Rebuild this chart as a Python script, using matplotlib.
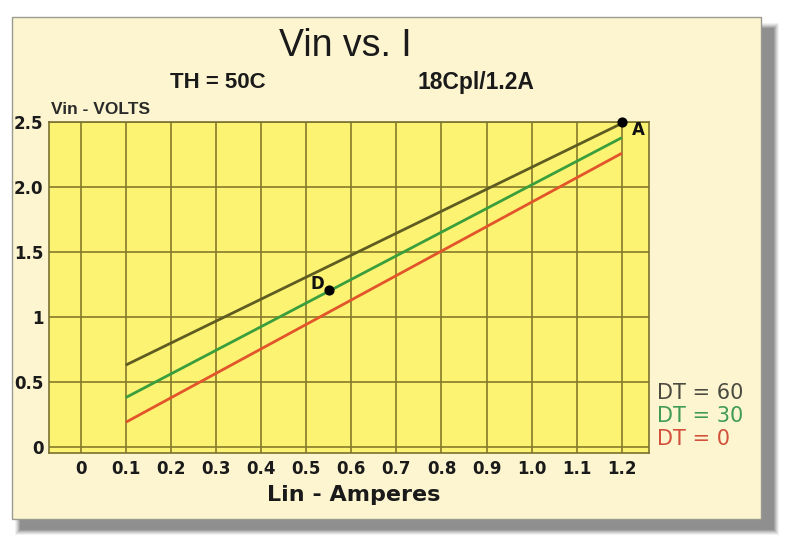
import matplotlib.pyplot as plt
from matplotlib.patches import Rectangle

# -----------------------------------------------------------------------------
# Data
# -----------------------------------------------------------------------------

current_amps = [0.1, 1.2]
vin_dt60 = [0.63, 2.49]
vin_dt30 = [0.38, 2.38]
vin_dt0 = [0.19, 2.26]

series_labels = ["DT = 60", "DT = 30", "DT = 0"]
series_colors = ["#5f5c22", "#3a9e3c", "#e2552a"]
legend_colors = ["#4a4a40", "#3f9a55", "#d2503c"]

point_names = ["D", "A"]
point_x = [0.55, 1.2]
point_y = [1.21, 2.50]

x_ticks = [0.0, 0.1, 0.2, 0.3, 0.4, 0.5, 0.6, 0.7, 0.8, 0.9, 1.0, 1.1, 1.2]
x_tick_labels = ["0", "0.1", "0.2", "0.3", "0.4", "0.5", "0.6",
                 "0.7", "0.8", "0.9", "1.0", "1.1", "1.2"]
y_ticks = [0.0, 0.5, 1.0, 1.5, 2.0, 2.5]
y_tick_labels = ["0", "0.5", "1", "1.5", "2.0", "2.5"]

# -----------------------------------------------------------------------------
# Figure, panel and shadow
# -----------------------------------------------------------------------------

W, H = 800, 548
figure = plt.figure(figsize=(8.0, 5.48), dpi=100)
figure.patch.set_facecolor("white")


def px_rect(x0, y0, x1, y1, **kw):
    # rectangle given in pixel coords measured from top-left
    return Rectangle((x0 / W, 1 - y1 / H), (x1 - x0) / W, (y1 - y0) / H,
                     transform=figure.transFigure, **kw)


# soft shadow
for i, a in enumerate([0.08, 0.10, 0.13, 0.17, 0.22, 0.25]):
    d = 5 - i
    figure.patches.append(px_rect(20 - d, 28 - d, 774 + d, 530 + d,
                                  facecolor="#555555", edgecolor="none",
                                  alpha=a, zorder=0))
figure.patches.append(px_rect(12, 17, 761, 519, facecolor="#fcf5d0",
                              edgecolor="#9a9a90", linewidth=1.0, zorder=1))

# -----------------------------------------------------------------------------
# Plot area
# -----------------------------------------------------------------------------

axes = figure.add_axes([49 / W, 1 - 453 / H, 600 / W, 331 / H], zorder=2)
axes.set_facecolor("#fdf372")

axes.plot(current_amps, vin_dt60, color=series_colors[0], linewidth=2.0,
          solid_capstyle="butt", zorder=3)
axes.plot(current_amps, vin_dt30, color=series_colors[1], linewidth=2.0,
          solid_capstyle="butt", zorder=3)
axes.plot(current_amps, vin_dt0, color=series_colors[2], linewidth=2.0,
          solid_capstyle="butt", zorder=3)

axes.scatter(point_x, point_y, s=40, color="black", zorder=5, clip_on=False)
axes.annotate(point_names[0], (point_x[0], point_y[0]), xytext=(-8, 4),
              textcoords="offset points", ha="center", va="center",
              fontsize=12, fontweight="bold", color="#111111")
axes.annotate(point_names[1], (point_x[1], point_y[1]), xytext=(12, -6),
              textcoords="offset points", ha="center", va="center",
              fontsize=12, fontweight="bold", color="#111111",
              annotation_clip=False)

axes.set_xlim(-0.07, 1.26)
axes.set_ylim(-0.046, 2.5)
axes.set_xticks(x_ticks)
axes.set_xticklabels(x_tick_labels)
axes.set_yticks(y_ticks)
axes.set_yticklabels(y_tick_labels)
axes.tick_params(length=0, labelsize=12, labelcolor="#1a1a1a")
axes.tick_params(axis="x", pad=5)
axes.tick_params(axis="y", pad=4)
for label in axes.get_xticklabels() + axes.get_yticklabels():
    label.set_fontweight("bold")

axes.grid(True, color="#857a2a", linewidth=1.2)
axes.set_axisbelow(True)
for spine in axes.spines.values():
    spine.set_color("#7a7030")
    spine.set_linewidth(1.2)

# -----------------------------------------------------------------------------
# Texts
# -----------------------------------------------------------------------------

figure.text(345 / W, 1 - 46 / H, "Vin vs. I", ha="center", va="center",
            fontsize=27, color="#1a1a1a", family="Liberation Sans")
figure.text(218 / W, 1 - 82 / H, "TH = 50C", ha="center", va="center",
            fontsize=16, fontweight="bold", color="#1a1a1a",
            family="Liberation Sans")
figure.text(476 / W, 1 - 82 / H, "18Cpl/1.2A", ha="center", va="center",
            fontsize=16.5, fontweight="bold", color="#1a1a1a",
            family="Liberation Sans")
figure.text(51 / W, 1 - 110 / H, "Vin - VOLTS", ha="left", va="center",
            fontsize=12.5, fontweight="bold", color="#2a2a2a",
            family="Liberation Sans")
figure.text(354 / W, 1 - 495 / H, "Lin - Amperes", ha="center", va="center",
            fontsize=16, fontweight="bold", color="#1a1a1a")

legend_y = [393, 416, 439]
for text, color, y in zip(series_labels, legend_colors, legend_y):
    figure.text(657 / W, 1 - y / H, text, ha="left", va="center",
                fontsize=15, color=color)

plt.savefig("out.png", dpi=100)
